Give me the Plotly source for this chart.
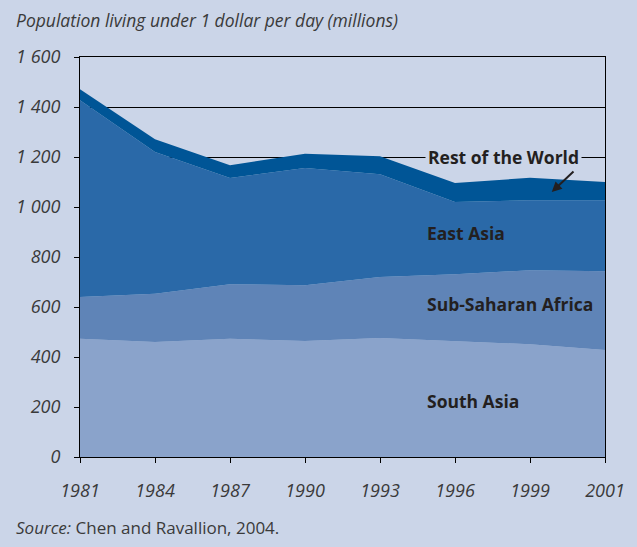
import plotly.graph_objects as go

years = ["1981", "1984", "1987", "1990", "1993", "1996", "1999", "2001"]
south_asia = [473, 460, 473, 464, 476, 462, 451, 428]
sub_saharan_africa = [167, 193, 218, 223, 244, 269, 296, 315]
east_asia = [787, 567, 425, 469, 411, 289, 280, 284]
rest_of_world = [44, 51, 51, 57, 72, 76, 90, 73]

y_ticks = [0, 200, 400, 600, 800, 1000, 1200, 1400, 1600]
y_ticktext = ["0", "200", "400", "600", "800", "1 000", "1 200", "1 400", "1 600"]

BG = "#CBD5E8"
FONT = "Open Sans"
TXT = "#231F20"
TICK = "#3A3A3A"

series = [
    ("South Asia", south_asia, "#8AA3CB"),
    ("Sub-Saharan Africa", sub_saharan_africa, "#5F84B7"),
    ("East Asia", east_asia, "#2A69A8"),
    ("Rest of the World", rest_of_world, "#005596"),
]

fig = go.Figure()
for name, vals, col in series:
    fig.add_trace(go.Scatter(
        x=years, y=vals, name=name, stackgroup="one", mode="lines",
        line=dict(width=0, color=col), fillcolor=col, hoverinfo="x+y+name",
    ))

fig.update_layout(
    width=637, height=547,
    paper_bgcolor=BG, plot_bgcolor=BG,
    margin=dict(l=80, r=32, t=57, b=90),
    showlegend=False,
    font=dict(family=FONT, color=TXT),
)
fig.update_xaxes(
    type="category", range=[0, 7], showgrid=False, zeroline=False,
    showline=True, linecolor="black", linewidth=1, mirror=True,
    ticks="outside", ticklen=5, tickcolor="black",
    tickfont=dict(family=FONT, size=18, color=TICK, style="italic"),
    ticklabelstandoff=12, automargin=False,
)
fig.update_yaxes(
    range=[0, 1600], tickvals=y_ticks, ticktext=y_ticktext,
    showgrid=True, gridcolor="black", gridwidth=1, zeroline=False,
    showline=True, linecolor="black", linewidth=1, mirror=True,
    ticks="outside", ticklen=5, tickcolor="black",
    tickfont=dict(family=FONT, size=18, color=TICK, style="italic"),
    ticklabelstandoff=10, automargin=False,
)

fig.add_annotation(xref="paper", yref="paper", x=-0.126, y=1.0, yshift=37,
                   xanchor="left", yanchor="middle", showarrow=False,
                   text="<i>Population living under 1 dollar per day (millions)</i>",
                   font=dict(size=17.5, color=TICK, family=FONT))
fig.add_annotation(xref="paper", yref="paper", x=-0.126, y=0, yshift=-70,
                   xanchor="left", yanchor="middle", showarrow=False,
                   text="<i>Source:</i> Chen and Ravallion, 2004.",
                   font=dict(size=17, color=TICK, family=FONT))

lab = dict(size=17.5, color=TXT, family=FONT)
fig.add_annotation(x=4.6, y=1200, text="<b>Rest of the World</b>", showarrow=False,
                   xanchor="left", yanchor="middle", bgcolor=BG, borderpad=2, font=lab)
fig.add_annotation(x=6.29, y=1060, ax=6.6, ay=1148, axref="x", ayref="y",
                   showarrow=True, arrowhead=2, arrowsize=1, arrowwidth=2,
                   arrowcolor=TXT, text="")
fig.add_annotation(x=4.6, y=896, text="<b>East Asia</b>", showarrow=False,
                   xanchor="left", yanchor="middle", font=lab)
fig.add_annotation(x=4.6, y=612, text="<b>Sub-Saharan Africa</b>", showarrow=False,
                   xanchor="left", yanchor="middle", font=lab)
fig.add_annotation(x=4.6, y=224, text="<b>South Asia</b>", showarrow=False,
                   xanchor="left", yanchor="middle", font=lab)

fig.write_html(
    "out.html",
    config={"displayModeBar": False},
    post_script="document.body.style.margin='0';document.body.style.background='%s';" % BG,
)
